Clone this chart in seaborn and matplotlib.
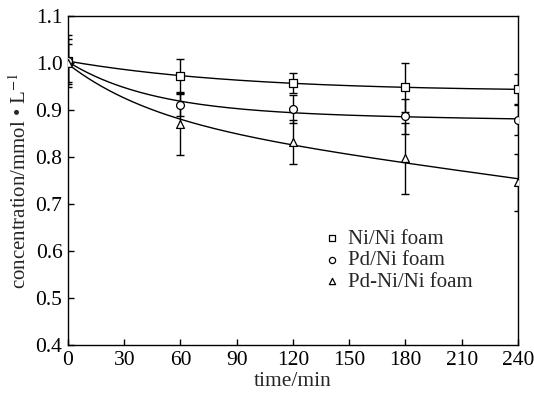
import numpy as np
import pandas as pd
import matplotlib
matplotlib.use("Agg")
import matplotlib.pyplot as plt
import seaborn as sns

# 読み取った値
time = [0, 60, 120, 180, 240]
ni_ni = [1.004, 0.973, 0.957, 0.948, 0.944]
ni_ni_err = [0.055, 0.035, 0.021, 0.052, 0.032]
pd_ni = [1.004, 0.911, 0.902, 0.887, 0.878]
pd_ni_err = [0.048, 0.024, 0.030, 0.037, 0.032]
pdni_ni = [1.000, 0.870, 0.832, 0.797, 0.746]
pdni_ni_err = [0.040, 0.066, 0.047, 0.075, 0.060]

labels = ["Ni/Ni foam", "Pd/Ni foam", "Pd-Ni/Ni foam"]
markers = ["s", "o", "^"]

data = pd.DataFrame({"time": time * 3,
                     "conc": ni_ni + pd_ni + pdni_ni,
                     "err": ni_ni_err + pd_ni_err + pdni_ni_err,
                     "sample": np.repeat(labels, len(time))})


# 指数減衰 + 直線 で最小二乗フィット (kはグリッド探索)
def fit_curve(t, y, kmax=0.022):
    t = np.asarray(t, float)
    y = np.asarray(y, float)
    best = None
    for k in np.linspace(0.004, kmax, 200):
        A = np.column_stack([np.ones_like(t), t, np.exp(-k * t)])
        coef = np.linalg.lstsq(A, y, rcond=None)[0]
        sse = np.sum((A @ coef - y) ** 2)
        if best is None or sse < best[0]:
            best = (sse, k, coef)
    _, k, coef = best
    tt = np.linspace(t.min(), t.max(), 200)
    return tt, coef[0] + coef[1] * tt + coef[2] * np.exp(-k * tt)


sns.set_style("ticks")
plt.rcParams["font.family"] = ["Liberation Serif", "DejaVu Serif"]
plt.rcParams["mathtext.fontset"] = "stix"

fig = plt.figure(figsize=(5.34, 3.93), dpi=100, facecolor="white")
ax = fig.add_axes([0.1273, 0.1221, 0.8427, 0.8372])

for lab, mk in zip(labels, markers):
    d = data[data["sample"] == lab]
    tt, yy = fit_curve(d["time"], d["conc"])
    sns.lineplot(x=tt, y=yy, color="black", lw=1.0, ax=ax, legend=False)
    ax.errorbar(d["time"], d["conc"], yerr=d["err"], fmt="none",
                ecolor="black", elinewidth=1.0, capsize=3, capthick=1.0, zorder=3)
    sns.scatterplot(x="time", y="conc", data=d, marker=mk, s=32,
                    facecolor="white", edgecolor="black", linewidth=0.9,
                    zorder=4, label=lab, ax=ax)

ax.set_xlim(0, 240)
ax.set_ylim(0.4, 1.1)
ax.set_xticks(np.arange(0, 241, 30))
ax.set_yticks(np.arange(0.4, 1.11, 0.1))
ax.set_yticklabels(["%.1f" % v for v in np.arange(0.4, 1.11, 0.1)])
ax.tick_params(direction="in", length=4, width=1, labelsize=15.5, colors="black", pad=4)
for s in ax.spines.values():
    s.set_linewidth(1.0)
    s.set_color("black")

ax.set_xlabel("time/min", fontsize=15.5, labelpad=2)
ax.set_ylabel("concentration/mmol \u2022 L$^{-1}$", fontsize=15, labelpad=3)

leg = ax.legend(loc="upper left", bbox_to_anchor=(0.545, 0.378), frameon=False,
                fontsize=15, handletextpad=0.25, labelspacing=0.1,
                handlelength=1.0, borderaxespad=0)
for h in leg.legend_handles:
    h.set_sizes([20])

fig.savefig("out.png", dpi=100, facecolor="white")
